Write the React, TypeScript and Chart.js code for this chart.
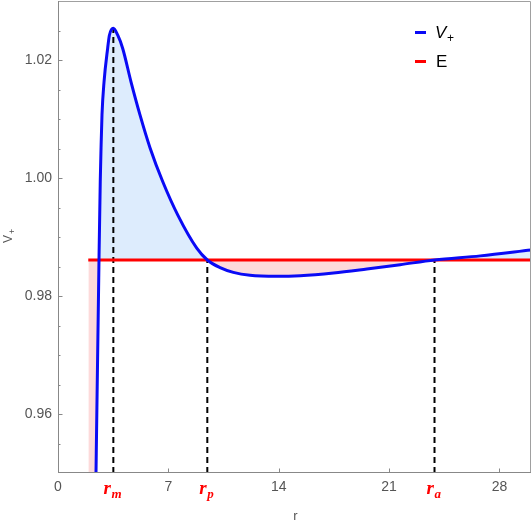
import React, { useEffect, useRef } from 'react';
import { Chart, registerables } from 'chart.js';

Chart.register(...registerables);

// Effective potential V+ (r, V)
const R_CURVE = [1.92, 2.36, 2.41, 2.6, 2.68, 2.73, 2.79, 2.92, 3.15, 3.26, 3.51, 3.79, 4.1, 4.63, 5.2, 5.84, 6.64, 7.6, 8.8, 9.47, 10.28, 11.12, 12.18, 13.88, 15.36, 17.47, 19.59, 21.7, 23.88, 26.78, 30.0];
const V_CURVE = [0.9, 0.94, 0.95, 0.9861, 0.9994, 1.0051, 1.0107, 1.0163, 1.022, 1.0242, 1.0254, 1.0242, 1.022, 1.0163, 1.0107, 1.0051, 0.9994, 0.9937, 0.9881, 0.9861, 0.9848, 0.984, 0.9835, 0.98334, 0.98344, 0.9839, 0.98458, 0.98531, 0.9861, 0.9868, 0.9878];

// Energy level E
const E_LEVEL = 0.9861;
const E_RANGE = [1.92, 30];

// Turning / extremum radii
const R_MARKS = [3.51, 9.47, 23.88];
const R_MARK_TOPS = [1.0254, 0.9861, 0.9861];
const R_MARK_SUBS = ['m', 'p', 'a'];

// Axes
const X_MIN = 0;
const X_MAX = 30;
const Y_MIN = 0.95;
const Y_MAX = 1.03;
const X_TICKS = [0, 7, 14, 21, 28];
const Y_TICKS = [0.96, 0.98, 1.0, 1.02];
const Y_MINOR = [0.955, 0.965, 0.97, 0.975, 0.985, 0.99, 0.995, 1.005, 1.01, 1.015, 1.025];

const BLUE = 'rgb(10,10,245)';
const RED = 'rgb(255,0,0)';
const FILL_ABOVE = 'rgb(221,236,253)';
const FILL_BELOW = 'rgb(253,218,218)';
const GRAY_TEXT = '#555555';

const decor = {
  id: 'decor',
  afterDraw(chart: any) {
    const { ctx, chartArea: a, scales } = chart;
    const xs = scales.x;
    const ys = scales.y;
    ctx.save();
    // frame
    ctx.strokeStyle = '#a0a0a0';
    ctx.lineWidth = 1;
    ctx.beginPath();
    ctx.moveTo(a.left, a.top + 0.5);
    ctx.lineTo(a.right - 0.5, a.top + 0.5);
    ctx.lineTo(a.right - 0.5, a.bottom);
    ctx.stroke();
    ctx.strokeStyle = '#888888';
    ctx.beginPath();
    ctx.moveTo(a.left + 0.5, a.top);
    ctx.lineTo(a.left + 0.5, a.bottom - 0.5);
    ctx.lineTo(a.right, a.bottom - 0.5);
    ctx.stroke();
    // inward ticks
    ctx.beginPath();
    Y_TICKS.forEach((v) => {
      const py = Math.round(ys.getPixelForValue(v)) + 0.5;
      ctx.moveTo(a.left, py);
      ctx.lineTo(a.left + 4.5, py);
    });
    Y_MINOR.forEach((v) => {
      const py = Math.round(ys.getPixelForValue(v)) + 0.5;
      ctx.moveTo(a.left, py);
      ctx.lineTo(a.left + 2.5, py);
    });
    X_TICKS.forEach((v) => {
      const px = Math.round(xs.getPixelForValue(v)) + 0.5;
      ctx.moveTo(px, a.bottom);
      ctx.lineTo(px, a.bottom - 4.5);
    });
    ctx.stroke();

    // red labels r_m, r_p, r_a
    ctx.fillStyle = RED;
    ctx.textBaseline = 'alphabetic';
    R_MARKS.forEach((r, i) => {
      const px = xs.getPixelForValue(r);
      ctx.font = 'bold italic 19px "Liberation Serif"';
      const w1 = ctx.measureText('r').width;
      ctx.font = 'bold italic 13px "Liberation Serif"';
      const w2 = ctx.measureText(R_MARK_SUBS[i]).width;
      const x0 = px - (w1 + w2) / 2 - 1;
      ctx.font = 'bold italic 19px "Liberation Serif"';
      ctx.textAlign = 'left';
      ctx.fillText('r', x0, 494);
      ctx.font = 'bold italic 13px "Liberation Serif"';
      ctx.fillText(R_MARK_SUBS[i], x0 + w1 + 0.5, 498);
    });

    // axis titles
    ctx.fillStyle = GRAY_TEXT;
    ctx.font = '13px "Liberation Sans"';
    ctx.textAlign = 'center';
    ctx.textBaseline = 'middle';
    ctx.fillText('r', (a.left + a.right) / 2 + 1, 516);
    ctx.save();
    ctx.translate(9, (a.top + a.bottom) / 2);
    ctx.rotate(-Math.PI / 2);
    ctx.font = '12px "Liberation Sans"';
    ctx.textAlign = 'left';
    const vw = ctx.measureText('V').width;
    ctx.fillText('V', -vw / 2 - 2, 0);
    ctx.font = '9px "Liberation Sans"';
    ctx.fillText('+', vw / 2 - 1, 4);
    ctx.restore();

    // legend
    ctx.lineWidth = 3;
    ctx.strokeStyle = BLUE;
    ctx.beginPath();
    ctx.moveTo(415, 32.5);
    ctx.lineTo(426, 32.5);
    ctx.stroke();
    ctx.strokeStyle = RED;
    ctx.beginPath();
    ctx.moveTo(415, 61.5);
    ctx.lineTo(426, 61.5);
    ctx.stroke();
    ctx.fillStyle = '#000000';
    ctx.textAlign = 'left';
    ctx.textBaseline = 'alphabetic';
    ctx.font = 'italic 17px "Liberation Sans"';
    ctx.fillText('V', 435, 38);
    ctx.font = '12px "Liberation Sans"';
    ctx.fillText('+', 447, 42);
    ctx.font = '17px "Liberation Sans"';
    ctx.fillText('E', 436, 67);
    ctx.restore();
  },
};

export default function App() {
  const ref = useRef<HTMLCanvasElement | null>(null);

  useEffect(() => {
    if (!ref.current) return;
    const curve = R_CURVE.map((r, i) => ({ x: r, y: V_CURVE[i] }));
    const eLine = E_RANGE.map((r) => ({ x: r, y: E_LEVEL }));
    const dashSets = R_MARKS.map((r, i) => ({
      data: [
        { x: r, y: Y_MIN },
        { x: r, y: R_MARK_TOPS[i] },
      ],
      borderColor: '#000000',
      borderWidth: 2,
      borderDash: [6, 4],
      pointRadius: 0,
      fill: false,
    }));

    const chart = new Chart(ref.current, {
      type: 'line',
      data: {
        datasets: [
          {
            label: 'V+',
            data: curve,
            borderColor: BLUE,
            borderWidth: 3,
            pointRadius: 0,
            cubicInterpolationMode: 'monotone',
            fill: { target: 1, above: FILL_ABOVE, below: FILL_BELOW },
          },
          {
            label: 'E',
            data: eLine,
            borderColor: RED,
            borderWidth: 3,
            pointRadius: 0,
            fill: false,
          },
          ...dashSets,
        ] as any,
      },
      options: {
        animation: false,
        responsive: false,
        maintainAspectRatio: false,
        layout: { padding: { top: 1, right: 1, left: 0, bottom: 0 } },
        plugins: {
          legend: { display: false },
          tooltip: { enabled: false },
          filler: { drawTime: 'beforeDatasetsDraw', propagate: false },
        },
        scales: {
          x: {
            type: 'linear',
            min: X_MIN,
            max: X_MAX,
            grid: { display: false, drawTicks: false },
            border: { display: false },
            afterBuildTicks: (s: any) => {
              s.ticks = X_TICKS.map((v) => ({ value: v }));
            },
            afterFit: (s: any) => {
              s.height = 52;
              s.paddingLeft = 0;
              s.paddingRight = 0;
              s.paddingTop = 0;
              s.paddingBottom = 0;
            },
            ticks: {
              color: GRAY_TEXT,
              font: { family: '"Liberation Sans"', size: 14 },
              padding: 6,
              maxRotation: 0,
              autoSkip: false,
              callback: (v: any) => String(v),
            },
          },
          y: {
            type: 'linear',
            min: Y_MIN,
            max: Y_MAX,
            grid: { display: false, drawTicks: false },
            border: { display: false },
            afterBuildTicks: (s: any) => {
              s.ticks = Y_TICKS.map((v) => ({ value: v }));
            },
            afterFit: (s: any) => {
              s.width = 58;
              s.paddingLeft = 0;
              s.paddingRight = 0;
              s.paddingTop = 0;
              s.paddingBottom = 0;
            },
            ticks: {
              color: GRAY_TEXT,
              font: { family: '"Liberation Sans"', size: 14 },
              padding: 6,
              autoSkip: false,
              callback: (v: any) => Number(v).toFixed(2),
            },
          },
        },
      } as any,
      plugins: [decor],
    });
    return () => chart.destroy();
  }, []);

  return (
    <div style={{ position: 'fixed', left: 0, top: 0, width: 532, height: 525, background: '#fff' }}>
      <canvas ref={ref} width={532} height={525} style={{ width: 532, height: 525, display: 'block' }} />
    </div>
  );
}
